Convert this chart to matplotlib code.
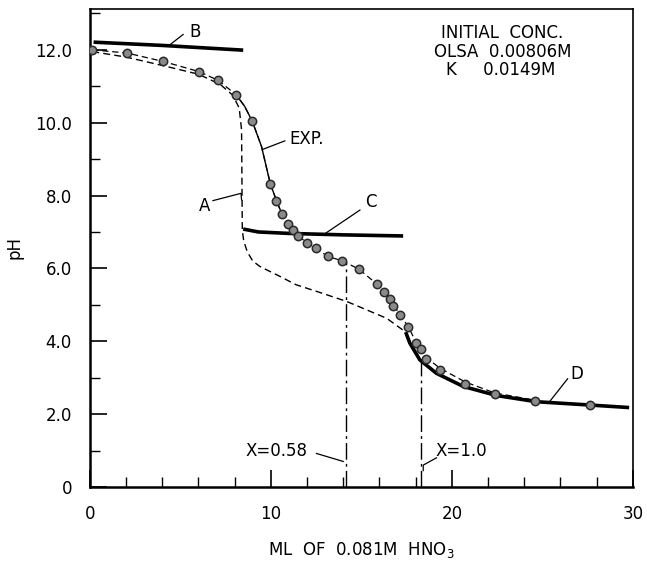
import matplotlib.pyplot as plt
from matplotlib.ticker import MultipleLocator, FixedLocator

# Titration of OLSA with HNO3: experimental points and calculated curves A-D

# experimental points (ml HNO3, pH)
exp_x = [0.13, 2.06, 4.05, 6.04, 7.09, 8.07, 8.97, 9.97, 10.31, 10.62, 10.96, 11.23,
         11.51, 12.0, 12.49, 13.13, 13.94, 14.86, 15.86, 16.24, 16.57, 16.76, 17.13,
         17.60, 18.03, 18.28, 18.60, 19.34, 20.75, 22.38, 24.62, 27.62]
exp_y = [12.0, 11.91, 11.68, 11.40, 11.16, 10.77, 10.04, 8.32, 7.86, 7.48, 7.23, 7.06,
         6.90, 6.69, 6.56, 6.33, 6.21, 5.98, 5.57, 5.34, 5.16, 4.97, 4.73,
         4.40, 3.96, 3.80, 3.52, 3.21, 2.83, 2.55, 2.36, 2.25]

# line drawn through the experimental points
exp_line_x = [0.13, 2.06, 4.05, 6.04, 7.09, 8.07, 8.55, 8.97, 9.48, 9.97, 10.31, 10.62,
              10.96, 11.23, 11.51, 12.0, 12.49, 13.13, 13.94, 14.86, 15.86, 16.57,
              17.13, 17.60, 18.03, 18.60, 19.34, 20.75, 22.38, 24.62]
exp_line_y = [12.0, 11.91, 11.68, 11.40, 11.16, 10.77, 10.45, 10.04, 9.35, 8.32, 7.86, 7.48,
              7.23, 7.06, 6.90, 6.69, 6.56, 6.33, 6.21, 5.98, 5.57, 5.16,
              4.73, 4.40, 3.96, 3.55, 3.26, 2.88, 2.58, 2.38]
exp_solid = (5, 11)  # index range of the solid part

# calculated curve A
a_x = [0.13, 2.0, 4.0, 6.0, 7.2, 7.9, 8.25, 8.38, 8.40, 8.42, 8.5, 8.7, 9.0, 9.4,
       10.5, 11.4, 12.7, 14.2, 15.3, 16.4, 17.4]
a_y = [11.95, 11.80, 11.57, 11.33, 11.05, 10.75, 10.40, 9.80, 8.50, 7.05, 6.75, 6.45, 6.20,
       6.05, 5.78, 5.55, 5.34, 5.09, 4.86, 4.63, 4.27]

# calculated curves B, C, D
b_x = [0.2, 4.0, 8.47]
b_y = [12.21, 12.12, 11.99]
c_x = [8.47, 9.3, 11.0, 14.0, 17.31]
c_y = [7.08, 7.00, 6.96, 6.92, 6.89]
d_x = [17.45, 17.68, 18.23, 19.15, 20.63, 22.47, 24.68, 27.6, 29.8]
d_y = [4.25, 3.95, 3.49, 3.12, 2.76, 2.51, 2.34, 2.25, 2.18]

# equivalence markers
x058 = 14.13
y058 = 6.19
x10 = 18.32
y10 = 3.42

fig = plt.figure(figsize=(6.47, 5.62), dpi=100)
ax = fig.add_axes([0.139, 0.1335, 0.839, 0.8505])

ax.plot(a_x, a_y, color='black', lw=1.0, ls=(0, (5, 3)))
ax.plot(exp_line_x, exp_line_y, color='black', lw=0.9, ls=(0, (5, 3)))
s0, s1 = exp_solid
ax.plot(exp_line_x[s0:s1 + 1], exp_line_y[s0:s1 + 1], color='black', lw=1.0)
ax.plot(b_x, b_y, color='black', lw=2.6, solid_capstyle='butt')
ax.plot(c_x, c_y, color='black', lw=2.6, solid_capstyle='butt')
ax.plot(d_x, d_y, color='black', lw=2.6, solid_capstyle='butt')

ax.plot([x058, x058], [0, y058], color='black', lw=1.0, ls=(0, (12, 3, 2, 3)))
ax.plot([x10, x10], [0, y10], color='black', lw=1.0, ls=(0, (12, 3, 2, 3)))

ax.plot(exp_x, exp_y, 'o', ms=6, mfc='#8a8a8a', mec='#2a2a2a', mew=1.1, zorder=5)

# labels with leader lines
fs = 12
ax.text(5.8, 12.49, 'B', fontsize=fs, ha='center', va='center')
ax.plot([4.4, 5.15], [12.13, 12.42], color='black', lw=0.9)
ax.text(11.0, 9.55, 'EXP.', fontsize=fs, ha='left', va='center')
ax.plot([9.57, 10.77], [9.27, 9.5], color='black', lw=0.9)
ax.text(6.35, 7.72, 'A', fontsize=fs, ha='center', va='center')
ax.plot([6.8, 8.35, 8.38], [7.86, 8.06, 7.88], color='black', lw=0.9)
ax.text(15.52, 7.81, 'C', fontsize=fs, ha='center', va='center')
ax.plot([14.92, 13.04], [7.6, 6.97], color='black', lw=0.9)
ax.text(26.9, 3.09, 'D', fontsize=fs, ha='center', va='center')
ax.plot([26.4, 25.4], [2.97, 2.34], color='black', lw=0.9)
ax.text(10.31, 1.0, 'X=0.58', fontsize=fs, ha='center', va='center')
ax.plot([12.52, 14.0], [0.92, 0.70], color='black', lw=0.9)
ax.text(19.1, 1.0, 'X=1.0', fontsize=fs, ha='left', va='center')
ax.plot([19.15, 18.42, 18.42], [0.80, 0.60, 0.45], color='black', lw=0.9)

ax.text(22.8, 12.46, 'INITIAL  CONC.', fontsize=12, ha='center', va='center')
ax.text(22.8, 11.93, 'OLSA  0.00806M', fontsize=12, ha='center', va='center')
ax.text(22.7, 11.45, 'K     0.0149M', fontsize=12, ha='center', va='center')

ax.set_xlim(0, 30)
ax.set_ylim(0, 13.12)
ax.xaxis.set_major_locator(FixedLocator([0, 10, 20, 30]))
ax.xaxis.set_minor_locator(MultipleLocator(2))
ax.yaxis.set_major_locator(FixedLocator([0, 2, 4, 6, 8, 10, 12]))
ax.yaxis.set_minor_locator(MultipleLocator(1))
ax.set_yticklabels(['0', '2.0', '4.0', '6.0', '8.0', '10.0', '12.0'])
ax.tick_params(which='major', direction='in', length=12, width=1.2, labelsize=12)
ax.tick_params(axis='y', which='major', pad=13)
ax.tick_params(axis='x', which='major', pad=13)
ax.tick_params(which='minor', direction='in', length=7, width=1.0)
ax.tick_params(top=False, right=False, which='both')

ax.spines['left'].set_linewidth(1.8)
ax.spines['bottom'].set_linewidth(1.8)
ax.spines['top'].set_linewidth(1.2)
ax.spines['right'].set_linewidth(1.2)

ax.set_xlabel(r'ML  OF  0.081M  HNO$_3$', fontsize=12, labelpad=12)
ax.set_ylabel('pH', fontsize=12, labelpad=8)

plt.savefig('out.png', dpi=100)
